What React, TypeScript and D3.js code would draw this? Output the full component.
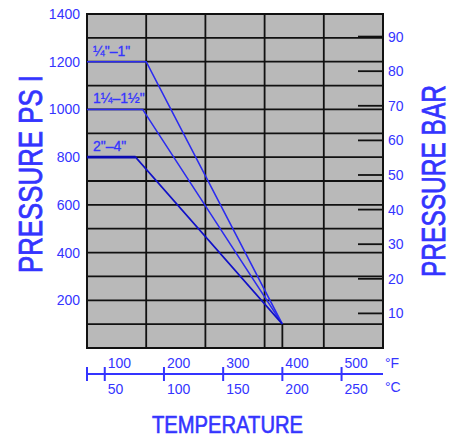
import React from "react";
import * as d3 from "d3";

const W = 453;
const H = 437;

// Data (°C, psi)
const sizeLabels = ["¼\"–1\"", "1¼–1½\"", "2\"–4\""];
const flatPsi = [1200, 1000, 800];
const flatEndC = [85, 82, 76];
const convergeC = 200;
const convergePsi = 100;

const psiTicks = [200, 400, 600, 800, 1000, 1200, 1400];
const psiGrid = d3.range(100, 1400, 100);
const barTicks = [10, 20, 30, 40, 50, 60, 70, 80, 90];
const cTicks = [50, 100, 150, 200, 250];
const fLabels = ["100", "200", "300", "400", "500"];
const cGrid = [85, 135, 185, 235];

const PSI_PER_BAR = 14.5038;

const BLUE = "#3434ff";
const LINE = "#2b2bf0";
const FONT = "'Liberation Sans Narrow', 'Arial Narrow', 'Liberation Sans', Arial, sans-serif";

export default function App() {
  const left = 87, right = 383, top = 14, bottom = 348;
  const x = d3.scaleLinear().domain([35, 285]).range([left, right]);
  const y = d3.scaleLinear().domain([0, 1400]).range([bottom, top]);
  const yBar = d3.scaleLinear().domain([0, 1400 / PSI_PER_BAR]).range([bottom, top]);

  const line = d3
    .line<[number, number]>()
    .x((d) => x(d[0]))
    .y((d) => y(d[1]));

  const axisY = 374;

  return (
    <svg
      width={W}
      height={H}
      style={{ position: "absolute", left: 0, top: 0, background: "#fff" }}
      fontFamily={FONT}
    >
      {/* plot background */}
      <rect x={left} y={top} width={right - left} height={bottom - top} fill="#b9b9b9" />
      {/* horizontal grid */}
      {psiGrid.map((p) => (
        <line key={"h" + p} x1={left} x2={right} y1={y(p)} y2={y(p)} stroke="#111" strokeWidth={1.8} />
      ))}
      {/* vertical grid */}
      {cGrid.map((c) => (
        <line key={"v" + c} x1={x(c)} x2={x(c)} y1={top} y2={bottom} stroke="#111" strokeWidth={1.8} />
      ))}
      {/* bar ticks inside right */}
      {barTicks.map((b) => (
        <line key={"bt" + b} x1={right - 25} x2={right} y1={yBar(b)} y2={yBar(b)} stroke="#111" strokeWidth={1.8} />
      ))}
      {/* border */}
      <rect x={left} y={top} width={right - left} height={bottom - top} fill="none" stroke="#111" strokeWidth={2} />

      {/* curves */}
      {flatPsi.map((p, i) => (
        <path
          key={"c" + i}
          d={line([
            [35, p],
            [flatEndC[i], p],
            [convergeC, convergePsi],
          ]) || ""}
          fill="none"
          stroke={i === 2 ? "#1010c8" : LINE}
          strokeWidth={1.6}
        />
      ))}
      <line
        x1={x(35)}
        x2={x(flatEndC[2])}
        y1={y(flatPsi[2])}
        y2={y(flatPsi[2])}
        stroke="#0a0ab0"
        strokeWidth={2.6}
      />
      <line
        x1={x(convergeC)}
        x2={x(convergeC)}
        y1={y(convergePsi)}
        y2={y(0)}
        stroke="#111"
        strokeWidth={1.8}
      />
      {sizeLabels.map((s, i) => (
        <text key={"l" + i} x={left + 6} y={y(flatPsi[i]) - 6} fill={BLUE} fontSize={14} stroke={BLUE} strokeWidth={0.3}>
          {s}
        </text>
      ))}

      {/* psi tick labels */}
      {psiTicks.map((p) => (
        <text key={"pl" + p} x={80} y={y(p) + 5} textAnchor="end" fill={BLUE} fontSize={14}>
          {p}
        </text>
      ))}
      {/* bar tick labels */}
      {barTicks.map((b) => (
        <text key={"bl" + b} x={388} y={yBar(b) + 5} fill={BLUE} fontSize={14}>
          {b}
        </text>
      ))}

      {/* temperature axis */}
      <line x1={left} x2={right} y1={axisY} y2={axisY} stroke={BLUE} strokeWidth={2} />
      <line x1={left} x2={left} y1={axisY - 7} y2={axisY + 7} stroke={BLUE} strokeWidth={2} />
      {cTicks.map((c, i) => (
        <g key={"ct" + c}>
          <line x1={x(c)} x2={x(c)} y1={axisY - 7} y2={axisY + 7} stroke={BLUE} strokeWidth={2} />
          <text x={x(c) + 3} y={axisY - 6} fill={BLUE} fontSize={14}>
            {fLabels[i]}
          </text>
          <text x={x(c) + 3} y={axisY + 20} fill={BLUE} fontSize={14}>
            {c}
          </text>
        </g>
      ))}
      <text x={right + 2} y={axisY - 6} fill={BLUE} fontSize={14}>°F</text>
      <text x={right + 2} y={axisY + 18} fill={BLUE} fontSize={14}>°C</text>

      {/* titles */}
      <text
        transform="translate(42,174) rotate(-90)"
        textAnchor="middle"
        fill={BLUE}
        stroke={BLUE}
        strokeWidth={0.8}
        fontSize={33}
        textLength={198}
        lengthAdjust="spacingAndGlyphs"
      >
        PRESSURE PS I
      </text>
      <text
        transform="translate(445,181) rotate(-90)"
        textAnchor="middle"
        fill={BLUE}
        stroke={BLUE}
        strokeWidth={0.8}
        fontSize={34}
        textLength={192}
        lengthAdjust="spacingAndGlyphs"
      >
        PRESSURE BAR
      </text>
      <text
        x={227.5}
        y={433}
        textAnchor="middle"
        fill={BLUE}
        stroke={BLUE}
        strokeWidth={0.6}
        fontSize={23}
        textLength={151}
        lengthAdjust="spacingAndGlyphs"
      >
        TEMPERATURE
      </text>
    </svg>
  );
}
